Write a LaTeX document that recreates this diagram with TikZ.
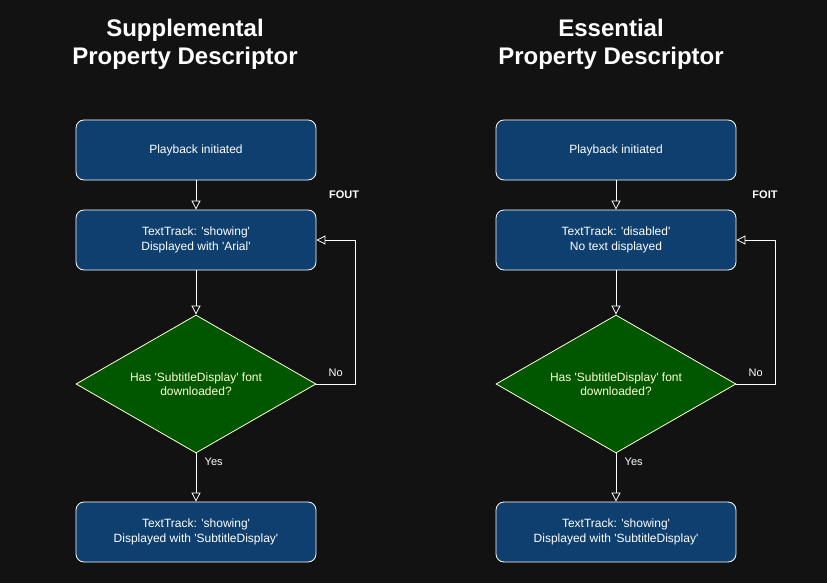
\documentclass[tikz,border=0pt]{standalone}
\usepackage{fontspec}
\setmainfont{Liberation Sans}
\usetikzlibrary{arrows.meta,shapes.geometric}
\definecolor{bgc}{HTML}{121212}
\definecolor{boxc}{HTML}{0F3F6F}
\definecolor{decc}{HTML}{005700}
\definecolor{dect}{HTML}{FFFFD6}
\newcommand{\qt}[1]{\textquotesingle#1\textquotesingle}

\begin{document}
\begin{tikzpicture}[x=1pt,y=-1pt,font=\fontsize{12}{14.5}\selectfont,
  >={Triangle[open,length=9pt,width=9pt]},
  state/.style={draw=white,fill=boxc,text=white,rounded corners=8pt,
    minimum width=240pt,minimum height=60pt,align=center,line width=0.8pt},
  check/.style={diamond,draw=dect,fill=decc,text=dect,aspect=1.74,inner sep=0pt,
    minimum width=240pt,minimum height=138pt,align=center,line width=0.8pt},
  flow/.style={->,draw=white,line width=0.8pt},
  tag/.style={text=white,font=\fontsize{11}{13}\selectfont},
  title/.style={text=white,align=center,font=\bfseries\fontsize{24}{28}\selectfont}]
  % background fixes the page size
  \fill[bgc] (0,0) rectangle (827,583);
  % left: supplemental descriptor (FOUT)
  \node[title] (supt) at (185,44) {Supplemental\\Property Descriptor};
  \node[state] (sup1) at (196,150) {Playback initiated};
  \node[state] (sup2) at (196,240) {TextTrack: \qt{showing}\\Displayed with \qt{Arial}};
  \node[check] (sup3) at (196,384) {Has \qt{SubtitleDisplay} font\\downloaded?};
  \node[state] (sup4) at (196,532) {TextTrack: \qt{showing}\\Displayed with \qt{SubtitleDisplay}};
  \node[tag,font=\bfseries\fontsize{11}{13}\selectfont] (fout) at (344,195) {FOUT};
  \coordinate (supr) at (355,384);
  \draw[flow] (sup1) -- (sup2);
  \draw[flow] (sup2) -- (sup3);
  \draw[flow] (sup3) -- node[tag,pos=0.18,right=5pt] (supy) {Yes} (sup4);
  \draw[flow] (sup3.east) -- node[tag,pos=0.5,above=4pt] (supn) {No} (supr) |- (sup2.east);
  % right: essential descriptor (FOIT)
  \node[title] (esst) at (611,44) {Essential\\Property Descriptor};
  \node[state] (ess1) at (616,150) {Playback initiated};
  \node[state] (ess2) at (616,240) {TextTrack: \qt{disabled}\\No text displayed};
  \node[check] (ess3) at (616,384) {Has \qt{SubtitleDisplay} font\\downloaded?};
  \node[state] (ess4) at (616,532) {TextTrack: \qt{showing}\\Displayed with \qt{SubtitleDisplay}};
  \node[tag,font=\bfseries\fontsize{11}{13}\selectfont] (foit) at (765,195) {FOIT};
  \coordinate (essr) at (775,384);
  \draw[flow] (ess1) -- (ess2);
  \draw[flow] (ess2) -- (ess3);
  \draw[flow] (ess3) -- node[tag,pos=0.18,right=5pt] (essy) {Yes} (ess4);
  \draw[flow] (ess3.east) -- node[tag,pos=0.5,above=4pt] (essn) {No} (essr) |- (ess2.east);
\end{tikzpicture}
\end{document}
